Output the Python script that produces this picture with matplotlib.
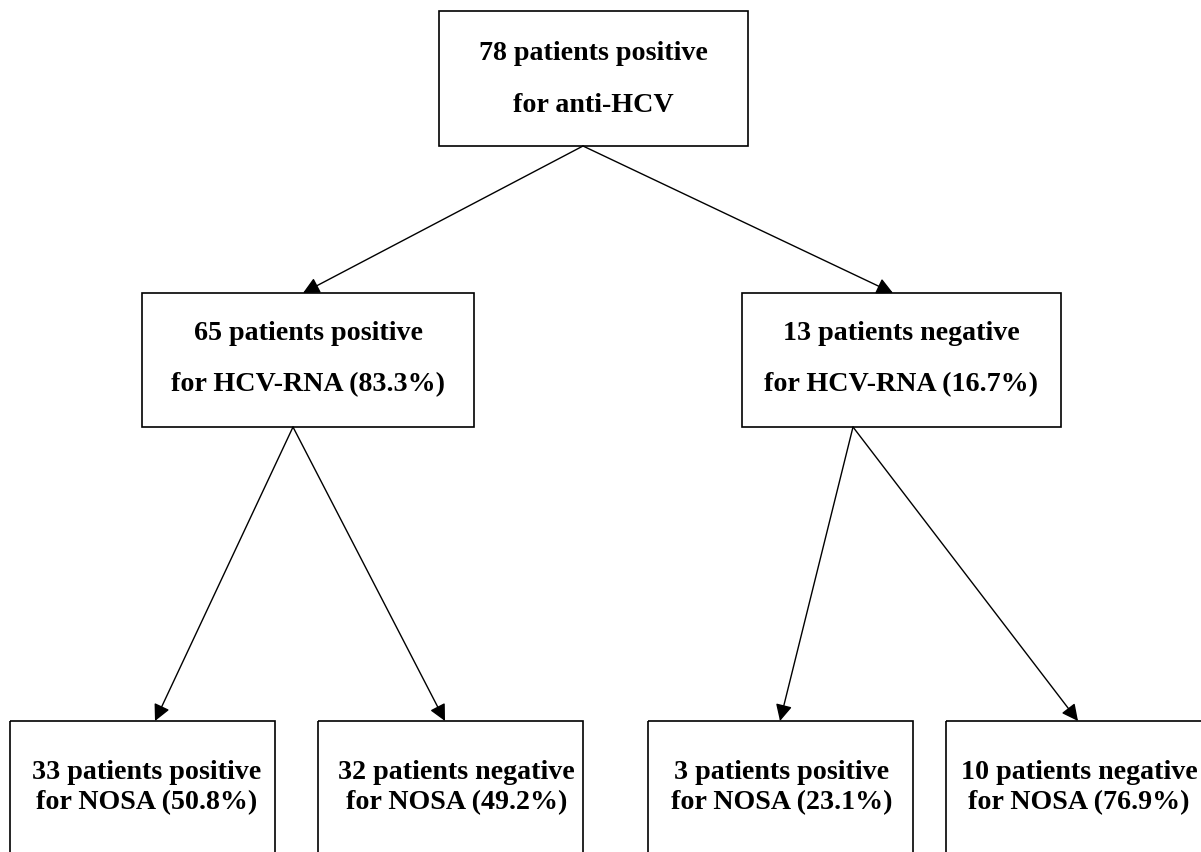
import matplotlib.pyplot as plt
from matplotlib.patches import Rectangle

# node texts
top_label = ["78 patients positive", "for anti-HCV"]
mid_labels = [["65 patients positive", "for HCV-RNA (83.3%)"],
              ["13 patients negative", "for HCV-RNA (16.7%)"]]
bottom_labels = [["33 patients positive", "for NOSA (50.8%)"],
                 ["32 patients negative", "for NOSA (49.2%)"],
                 ["3 patients positive", "for NOSA (23.1%)"],
                 ["10 patients negative", "for NOSA (76.9%)"]]

# box layout in pixels (x0, y0, x1, y1)
top_box = (439, 12, 748, 147)
mid_boxes = [(142, 294, 474, 428), (742, 294, 1061, 428)]
bottom_boxes = [(10, 722, 275, 870), (318, 722, 583, 870),
                (648, 722, 913, 870), (946, 722, 1212, 870)]
bottom_dx = [4, 6, 1, 0]

# arrows: (start, end)
arrows = [((583, 147), (303, 294)), ((583, 147), (893, 294)),
          ((293, 428), (155, 722)), ((293, 428), (445, 722)),
          ((853, 428), (780, 722)), ((853, 428), (1078, 722))]

fig = plt.figure(figsize=(12.01, 8.53), dpi=100)
ax = fig.add_axes([0, 0, 1, 1])
ax.set_xlim(0, 1201)
ax.set_ylim(853, 0)
ax.axis('off')

font = dict(family='Liberation Serif', weight='bold', fontsize=20.2, ha='center', va='center')


def draw_box(b, lines, y1, y2, dx=0):
    x0, y0, x1, yb = b
    ax.add_patch(Rectangle((x0, y0), x1 - x0, yb - y0, fill=False, lw=1.2, ec='black'))
    cx = (x0 + x1) / 2 + dx
    ax.text(cx, y1, lines[0], **font)
    ax.text(cx, y2, lines[1], **font)


draw_box(top_box, top_label, 53, 105)
for b, lab in zip(mid_boxes, mid_labels):
    draw_box(b, lab, 333, 385)
for b, lab, dx in zip(bottom_boxes, bottom_labels, bottom_dx):
    draw_box(b, lab, 773, 803, dx=dx)

for s, e in arrows:
    ax.annotate('', xy=e, xytext=s,
                arrowprops=dict(arrowstyle='-|>,head_length=1.0,head_width=0.5',
                                color='black', lw=1, shrinkA=0, shrinkB=0))

fig.savefig('out.png', dpi=100)
